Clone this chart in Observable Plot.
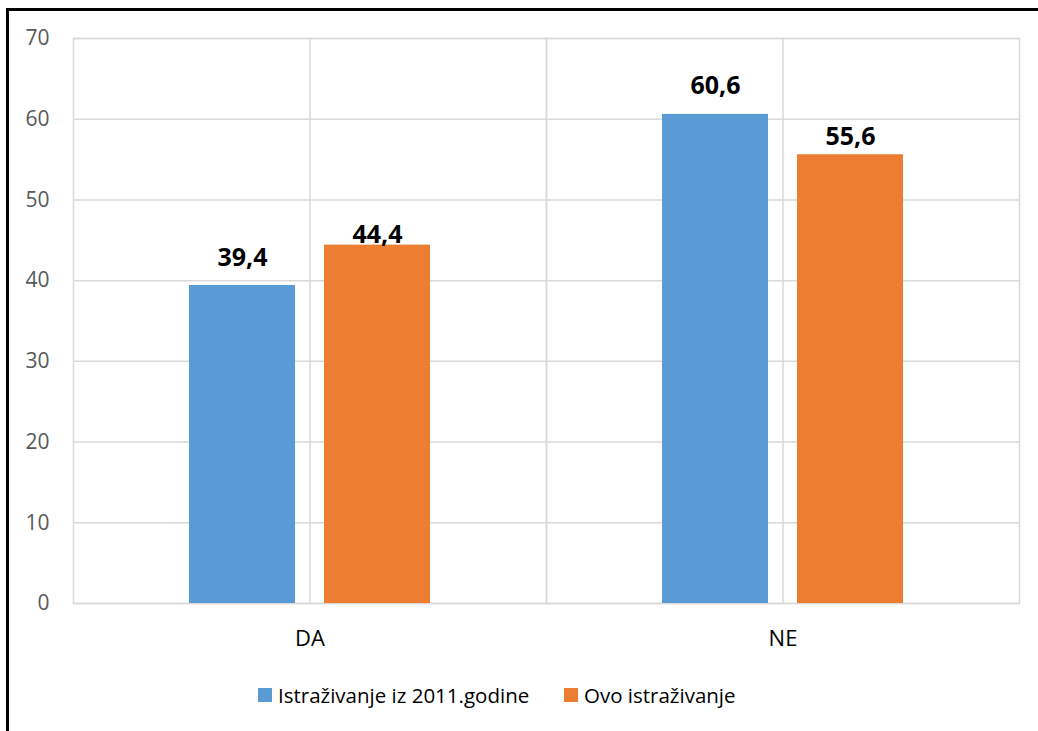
<!DOCTYPE html>
<html><head><meta charset="utf-8">
<script src="https://cdn.jsdelivr.net/npm/d3@7"></script>
<script src="https://cdn.jsdelivr.net/npm/@observablehq/plot@0.6"></script>
<style>
html,body{margin:0;padding:0;background:#fff;overflow:hidden;width:1038px;height:731px;}
#box{position:absolute;left:6px;top:8px;width:1200px;height:900px;border:3px solid #000;box-sizing:border-box;pointer-events:none;z-index:2}
#chart{position:absolute;left:0;top:0;}
#legend{position:absolute;top:681px;left:0;width:1038px;height:28px;font-family:"Open Sans";font-size:20.5px;line-height:28px;color:#000;}
.item{position:absolute;top:0;display:flex;align-items:center;white-space:nowrap;}
.sw{width:14px;height:14px;margin-right:6px}
</style></head><body>
<div id="chart"></div><div id="legend"></div><div id="box"></div>
<script>
// ---- data ----
const categories = ["DA", "NE"];
const seriesNames = ["Istraživanje iz 2011.godine", "Ovo istraživanje"];
const values2011 = [39.4, 60.6];
const valuesNow = [44.4, 55.6];
const seriesColors = ["#5b9bd5", "#ed7d31"];
const yTicks = [0, 10, 20, 30, 40, 50, 60, 70];

const data = categories.flatMap((c, i) => [
  {cat: c, series: seriesNames[0], value: values2011[i]},
  {cat: c, series: seriesNames[1], value: valuesNow[i]}
]);
const fmt = d => d.value.toFixed(1).replace(".", ",");
// label lift above bar top (px), as placed in the original
const labelLift = [-19, -2, -20, -10];

const chart = Plot.plot({
  width: 1038, height: 731,
  marginLeft: 72, marginRight: 19, marginTop: 38, marginBottom: 128,
  style: {background: "transparent", fontFamily: "Open Sans", overflow: "visible"},
  fx: {domain: categories, padding: 0, label: null},
  x: {domain: seriesNames, paddingInner: 0.215, paddingOuter: 0.859, axis: null},
  y: {domain: [0, 70], label: null},
  color: {domain: seriesNames, range: seriesColors},
  marks: [
    Plot.gridY(yTicks, {stroke: "#d9d9d9", strokeOpacity: 1, strokeWidth: 1.5}),
    Plot.gridFx({stroke: "#d9d9d9", strokeOpacity: 1, strokeWidth: 1.5}),
    Plot.frame({stroke: "#d9d9d9", strokeWidth: 1.5}),
    Plot.barY(data, {fx: "cat", x: "series", y: "value", fill: "series"}),
    ...data.map((d, i) => Plot.text([d], {
      fx: "cat", x: "series", y: "value", text: fmt,
      dy: labelLift[i], lineAnchor: "bottom",
      fontWeight: "bold", fontSize: 25, fill: "#000", fontFamily: "Open Sans"
    })),
    Plot.axisY(yTicks, {anchor: "left", tickSize: 0, tickPadding: 24, fontSize: 21, fill: "#595959", label: null, fontFamily: "Open Sans"}),
    Plot.axisFx({anchor: "bottom", tickSize: 0, tickPadding: 27, fontSize: 22, fill: "#000", label: null, fontFamily: "Open Sans"})
  ]
});
document.getElementById("chart").appendChild(chart);

const legend = document.getElementById("legend");
const legendLeft = [258, 564];
seriesNames.forEach((s, i) => {
  const item = document.createElement("div");
  item.className = "item";
  item.style.left = legendLeft[i] + "px";
  const sw = document.createElement("div");
  sw.className = "sw";
  sw.style.background = seriesColors[i];
  const t = document.createElement("span");
  t.textContent = s;
  item.appendChild(sw); item.appendChild(t);
  legend.appendChild(item);
});
</script>
</body></html>
